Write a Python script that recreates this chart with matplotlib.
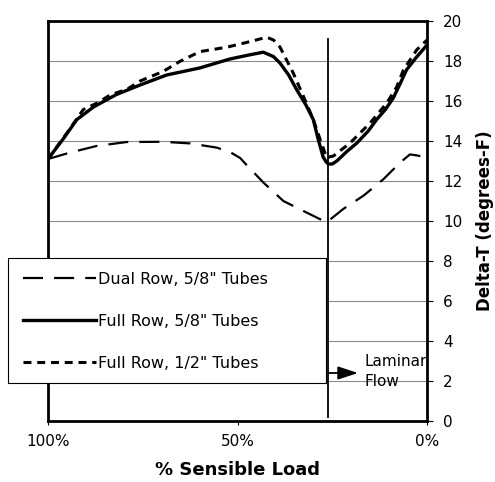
import numpy as np
import matplotlib
matplotlib.use("Agg")
import matplotlib.pyplot as plt
from matplotlib.patches import Rectangle

plt.rcParams['font.family'] = ['DejaVu Sans']

# % sensible load (x axis runs 100% -> 0%) and delta-T values
dual_x = [100, 94.2, 87.2, 79.2, 69.6, 62.5, 55.5, 52, 49.3, 47.6, 43.2, 37.9,
          32.6, 26.5, 22.1, 16.8, 11.5, 7.1, 4.5, 2.7, 0]
dual_y = [13.1, 13.42, 13.75, 13.95, 13.96, 13.88, 13.67, 13.45, 13.15, 12.8, 11.93, 11.0,
          10.5, 9.93, 10.6, 11.26, 12.09, 12.92, 13.33, 13.28, 13.17]

full58_x = [100, 96, 92.4, 88, 82, 75.7, 68.7, 60, 52, 47, 43.2, 40.5, 38.8, 36.5,
            34.4, 32, 30, 28.7, 27.4, 26.6, 26.0, 25, 23.8, 21, 18.5, 15.5, 13.3, 11, 8.9,
            7, 5.4, 3, 0]
full58_y = [13.1, 14.1, 15.07, 15.7, 16.32, 16.8, 17.3, 17.65, 18.1, 18.3, 18.44, 18.22, 17.9, 17.3,
            16.57, 15.82, 15.07, 14.08, 13.2, 12.95, 12.85, 12.85, 13.0, 13.5, 13.9, 14.5, 15.07, 15.57, 16.15,
            16.9, 17.56, 18.14, 18.8]

full12_x = [100, 95, 90.7, 87, 83.6, 79, 75.7, 69.6, 65.2, 59.9, 52.8, 46.7, 42.3, 40.5,
            38.8, 35.3, 32.6, 30, 28.2, 26.5, 24.7, 20.3, 15, 10.6, 8, 6.2, 2.7, 0]
full12_y = [13.1, 14.4, 15.57, 15.9, 16.3, 16.6, 17.0, 17.48, 17.98, 18.47, 18.69, 18.97, 19.19, 19.05,
            18.7, 17.4, 16.23, 15.07, 14.08, 13.17, 13.25, 13.9, 14.9, 15.9, 16.7, 17.56, 18.56, 19.05]

labels = ['Dual Row, 5/8" Tubes', 'Full Row, 5/8" Tubes', 'Full Row, 1/2" Tubes']
x_ticks = [100, 50, 0]
x_ticklabels = ['100%', '50%', '0%']
y_ticks = [0, 2, 4, 6, 8, 10, 12, 14, 16, 18, 20]
laminar_x = 26

fig = plt.figure(figsize=(4.95, 4.82), dpi=100)
ax = fig.add_axes([48/495, 1 - 421/482, (427-48)/495, (421-21)/482])

for y in y_ticks[1:-1]:
    ax.axhline(y, color='#8c8c8c', lw=0.8, zorder=1)

l1, = ax.plot(dual_x, dual_y, color='black', lw=1.6, dashes=(9, 5), zorder=3)
l2, = ax.plot(full58_x, full58_y, color='black', lw=2.4, solid_joinstyle='round', zorder=3)
l3, = ax.plot(full12_x, full12_y, color='black', lw=2.2, dashes=(2.6, 1.9), zorder=3)

# laminar flow marker
ax.plot([laminar_x, laminar_x], [0.2, 19.1], color='black', lw=1.3, zorder=6)
ax.annotate('', xy=(18.2, 2.4), xytext=(laminar_x, 2.4),
            arrowprops=dict(arrowstyle='-|>,head_length=0.61,head_width=0.2',
                            mutation_scale=20, color='black', lw=1.3,
                            shrinkA=0, shrinkB=0), zorder=6)
ax.text(16.4, 2.95, 'Laminar', fontsize=11, va='center', ha='left', zorder=6)
ax.text(16.4, 1.95, 'Flow', fontsize=11, va='center', ha='left', zorder=6)

ax.set_xlim(100, 0)
ax.set_ylim(0, 20)
ax.set_xticks(x_ticks)
ax.set_xticklabels(x_ticklabels, fontsize=11)
ax.set_yticks(y_ticks)
ax.tick_params(axis='y', left=False, labelleft=False, right=True, labelright=True,
               direction='out', length=4.5, width=0.8, pad=7, labelsize=11)
ax.tick_params(axis='x', direction='out', length=3, width=0.8, pad=6)
for s in ax.spines.values():
    s.set_linewidth(2)

ax.set_xlabel('% Sensible Load', fontsize=13, fontweight='bold', labelpad=9)
ax.yaxis.set_label_position('right')
ax.set_ylabel('Delta-T (degrees-F)', fontsize=12, fontweight='bold', labelpad=10)

# legend box
box = Rectangle((8/495, 1 - 383/482), (326-8)/495, (383-258)/482,
                transform=fig.transFigure, facecolor='white', edgecolor='black',
                lw=0.8, zorder=4)
ax.add_patch(box)
box.set_clip_on(False)
leg = ax.legend([l1, l2, l3], labels, loc='upper left', frameon=False,
                bbox_to_anchor=(15/495, 1 - 264/482), bbox_transform=fig.transFigure,
                fontsize=11.5, handlelength=4.6, handletextpad=0.1,
                labelspacing=1.68, borderpad=0)
leg.set_zorder(5)

fig.savefig('out.png', dpi=100)
